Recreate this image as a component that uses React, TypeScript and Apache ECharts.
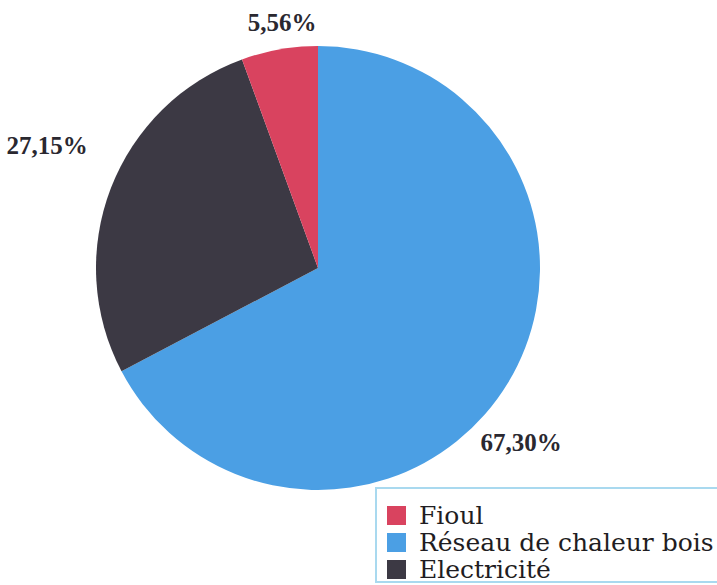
import React, { useEffect, useRef } from "react";
import * as echarts from "echarts";

const categories = ["Réseau de chaleur bois", "Electricité", "Fioul"];
const values = [67.3, 27.15, 5.56];
const valueLabels = ["67,30%", "27,15%", "5,56%"];
const legendOrder = ["Fioul", "Réseau de chaleur bois", "Electricité"];
const colors = ["#4b9fe4", "#3c3944", "#d9435f"];
const labelPos = [
  [521, 442],
  [47, 145],
  [282, 22],
];

export default function App() {
  const ref = useRef<HTMLDivElement>(null);
  useEffect(() => {
    if (!ref.current) return;
    const chart = echarts.init(ref.current, null, { renderer: "svg" });
    chart.setOption({
      animation: false,
      backgroundColor: "#ffffff",
      legend: {
        orient: "vertical",
        left: 376,
        top: 488,
        data: legendOrder,
        icon: "rect",
        itemWidth: 19,
        itemHeight: 19,
        itemGap: 2,
        borderColor: "#a9d9ef",
        borderWidth: 2,
        padding: [15, 20, 0, 11],
        selectedMode: false,
        textStyle: {
          fontFamily: "DejaVu Serif",
          fontSize: 25,
          lineHeight: 25,
          color: "#1f1d22",
          padding: [0, 0, 0, 8],
        },
      },
      series: [
        {
          type: "pie",
          center: [318, 268],
          radius: 222,
          startAngle: 90,
          clockwise: true,
          silent: true,
          data: categories.map((c, i) => ({
            name: c,
            value: values[i],
            itemStyle: { color: colors[i] },
          })),
          label: {
            show: true,
            position: "outside",
            alignTo: "none",
            overflow: "none",
            formatter: (p: any) => valueLabels[p.dataIndex],
            fontFamily: "Liberation Serif",
            fontWeight: "bold",
            fontSize: 25,
            color: "#2a2830",
          },
          labelLine: { show: false },
          labelLayout: (p: any) => ({
            x: labelPos[p.dataIndex][0],
            y: labelPos[p.dataIndex][1],
            align: "center",
            verticalAlign: "middle",
          }),
        },
      ],
    });
    return () => chart.dispose();
  }, []);
  return (
    <div
      ref={ref}
      style={{ position: "fixed", left: 0, top: 0, width: 717, height: 585 }}
    />
  );
}
